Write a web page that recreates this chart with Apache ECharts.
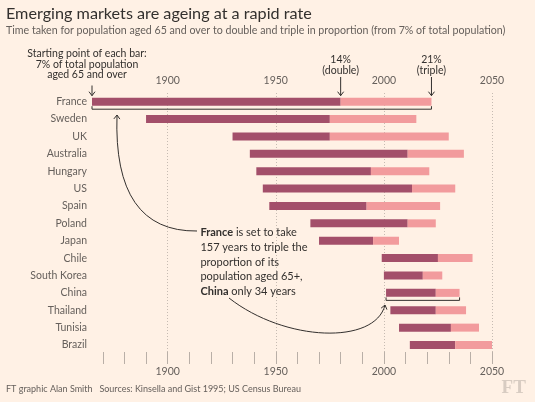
<!DOCTYPE html>
<html>
<head>
<meta charset="utf-8">
<script src="https://cdn.jsdelivr.net/npm/echarts@6/dist/echarts.min.js"></script>
<style>
html,body{margin:0;padding:0;background:#FFF1E5;}
#c{width:535px;height:402px;}
</style>
</head>
<body>
<div id="c"></div>
<script>
// ---- data ----
const categories = ['France','Sweden','UK','Australia','Hungary','US','Spain','Poland','Japan','Chile','South Korea','China','Thailand','Tunisia','Brazil'];
const start7   = [1865,1890,1930,1938,1941,1944,1947,1966,1970,1999,2000,2001,2003,2007,2012];
const double14 = [1980,1975,1975,2011,1994,2013,1992,2011,1995,2025,2018,2024,2024,2031,2033];
const triple21 = [2022,2015,2030,2037,2021,2033,2026,2024,2007,2041,2027,2035,2038,2044,2050];
const yearLabels = [1900,1950,2000,2050];

const FONT = 'Lato';
const DARK = '#A34F6A';
const LIGHT = '#F29B9D';
const TXT = '#33302e';
const GREY = '#66605c';

const xMin = 1865, xMax = 2050;
const leftPx = 92, rightPx = 492, W = 535;
const ppy = (rightPx - leftPx) / (xMax - xMin);

const chart = echarts.init(document.getElementById('c'));

const tickAxis = (pos, margin) => ({
  gridIndex: 1, type: 'value', position: pos, min: 1870, max: 2050, interval: 10,
  axisLine: {show: false},
  axisTick: {show: true, length: 6, lineStyle: {color: '#b9afa7', width: 1}},
  splitLine: {show: false},
  axisLabel: {
    formatter: v => yearLabels.includes(v) ? String(v) : '',
    margin: margin, color: GREY, fontSize: 10.5, fontFamily: FONT
  }
});

chart.setOption({
  backgroundColor: '#FFF1E5',
  animation: false,
  grid: [
    {left: leftPx, right: W - rightPx, top: 93, bottom: 48.3, outerBoundsMode: 'none'},
    {left: leftPx + (1870 - xMin) * ppy, right: W - rightPx, top: 92, bottom: 44, outerBoundsMode: 'none'},
    {left: leftPx + (1900 - xMin) * ppy, right: W - rightPx, top: 93, bottom: 47, outerBoundsMode: 'none'}
  ],
  xAxis: [
    {gridIndex: 0, type: 'value', min: xMin, max: xMax, show: false},
    tickAxis('top', 6),
    tickAxis('bottom', 8),
    {gridIndex: 2, type: 'value', min: 1900, max: 2050, interval: 50,
     axisLine: {show: false}, axisTick: {show: false}, axisLabel: {show: false},
     splitLine: {show: true, lineStyle: {color: '#c6bbb2', type: [1, 2], width: 1}}}
  ],
  yAxis: [
    {gridIndex: 0, type: 'category', data: categories, inverse: true,
     axisLine: {show: false}, axisTick: {show: false}, splitLine: {show: false},
     axisLabel: {color: GREY, fontSize: 10.5, fontFamily: FONT, margin: 5}},
    {gridIndex: 1, type: 'value', show: false, min: 0, max: 1},
    {gridIndex: 2, type: 'value', show: false, min: 0, max: 1}
  ],
  series: [
    {type: 'bar', stack: 's', xAxisIndex: 0, yAxisIndex: 0, data: start7,
     itemStyle: {color: 'rgba(0,0,0,0)'}, barWidth: 8, silent: true},
    {type: 'bar', stack: 's', xAxisIndex: 0, yAxisIndex: 0,
     data: double14.map((d, i) => d - start7[i]),
     itemStyle: {color: DARK}, barWidth: 8},
    {type: 'bar', stack: 's', xAxisIndex: 0, yAxisIndex: 0,
     data: triple21.map((d, i) => d - double14[i]),
     itemStyle: {color: LIGHT}, barWidth: 8}
  ]
});

// ---- annotations ----
const P = (yr, i) => chart.convertToPixel({gridIndex: 0}, [yr, i]);
const g = [];
const text = (x, y, t, size, fill, align, extra) => g.push(Object.assign({
  type: 'text', x: x, y: y,
  style: Object.assign({text: t, fontSize: size, fontFamily: FONT, fill: fill,
    textAlign: align || 'left', align: align || 'left',
    textVerticalAlign: 'middle', verticalAlign: 'middle'}, extra || {})
}));
const line = (pts) => g.push({type: 'polyline', shape: {points: pts},
  style: {stroke: TXT, lineWidth: 1, fill: null}});
const head = (tx, ty, dx, dy) => {
  const l = Math.hypot(dx, dy); dx /= l; dy /= l;
  const L = 4, Wd = 3;
  line([[tx - L * dx - Wd * dy, ty - L * dy + Wd * dx], [tx, ty], [tx - L * dx + Wd * dy, ty - L * dy - Wd * dx]]);
};
const bracket = (i, a, b) => {
  const y = P(a, i)[1] + 7.5;
  const x1 = P(a, i)[0], x2 = P(b, i)[0];
  line([[x1, y - 3], [x1, y], [x2, y], [x2, y - 3]]);
};

// Title block
text(6, 14, 'Emerging markets are ageing at a rapid rate', 16.2, TXT);
text(6, 31, 'Time taken for population aged 65 and over to double and triple in proportion (from 7% of total population)', 10.65, GREY);

// Header annotations
const fr0 = P(start7[0], 0), fr14 = P(double14[0], 0), fr21 = P(triple21[0], 0);
text(87, 54, 'Starting point of each bar:', 10.5, TXT, 'center');
text(87, 64.5, '7% of total population', 10.5, TXT, 'center');
text(87, 75, 'aged 65 and over', 10.5, TXT, 'center');
text(fr14[0], 59.3, '14%', 10.5, TXT, 'center');
text(fr14[0], 70.7, '(double)', 10.5, TXT, 'center');
text(fr21[0], 59.3, '21%', 10.5, TXT, 'center');
text(fr21[0], 70.7, '(triple)', 10.5, TXT, 'center');
const arrowTip = fr0[1] - 6;
line([[fr0[0], 85.5], [fr0[0], arrowTip]]); head(fr0[0], arrowTip, 0, 1);
line([[fr14[0], 77], [fr14[0], arrowTip]]); head(fr14[0], arrowTip, 0, 1);
line([[fr21[0], 77], [fr21[0], arrowTip]]); head(fr21[0], arrowTip, 0, 1);

// Brackets
bracket(0, start7[0], triple21[0]);
bracket(11, start7[11], triple21[11]);

// Main note
g.push({
  type: 'text', x: 200.4, y: 225.3,
  style: {
    text: '{b|France} is set to take\n157 years to triple the\nproportion of its\npopulation aged 65+,\n{b|China} only 34 years',
    fontSize: 11, fontFamily: FONT, fill: TXT, lineHeight: 14.75,
    textAlign: 'left', align: 'left', textVerticalAlign: 'top', verticalAlign: 'top',
    rich: {b: {fontWeight: 'bold', fontSize: 11, fontFamily: FONT, fill: TXT, lineHeight: 14.75}}
  }
});

// Curved arrows
g.push({type: 'bezierCurve', shape: {x1: 197, y1: 231, x2: 117, y2: 115, cpx1: 113, cpy1: 232},
  style: {stroke: TXT, lineWidth: 1, fill: null}});
head(117, 115, 4, -117);
g.push({type: 'bezierCurve', shape: {x1: 229, y1: 298, x2: 385, y2: 305, cpx1: 285, cpy1: 342, cpx2: 375, cpy2: 345},
  style: {stroke: TXT, lineWidth: 1, fill: null}});
head(385, 305, 10, -40);

// Footer
text(6, 389, 'FT graphic Alan Smith   Sources: Kinsella and Gist 1995; US Census Bureau', 9, GREY);
g.push({type: 'text', x: 513.7, y: 388.5,
  style: {text: 'FT', fontSize: 19, fontWeight: 'bold', fontFamily: '"Liberation Serif", "DejaVu Serif", serif',
    fill: '#d8ccc2', textAlign: 'center', align: 'center', textVerticalAlign: 'middle', verticalAlign: 'middle'}});

chart.setOption({graphic: {elements: g}});
</script>
</body>
</html>
